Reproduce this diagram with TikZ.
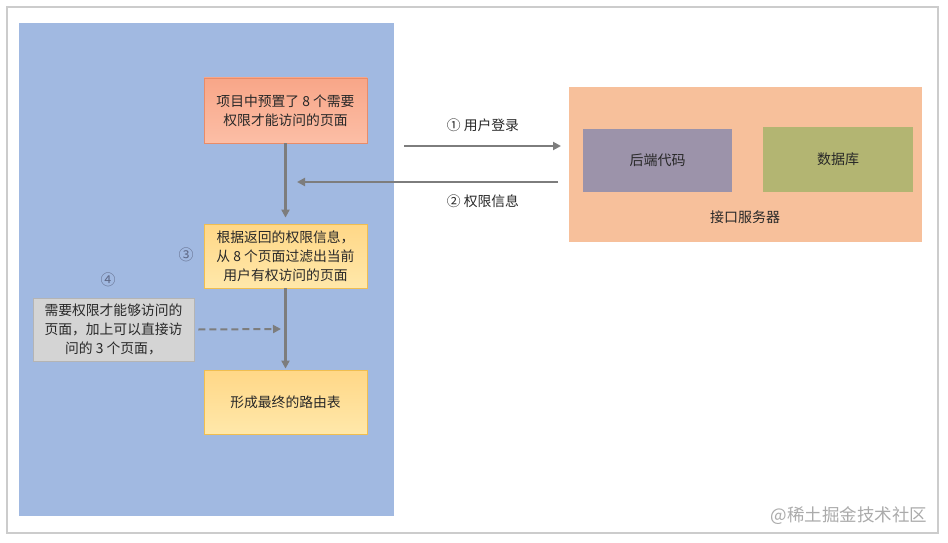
\documentclass[tikz,border=0pt]{standalone}
\usepackage{fontspec}
\setmainfont{Noto Sans CJK SC}
\usetikzlibrary{arrows.meta}
\definecolor{panelblue}{RGB}{161,185,225}
\definecolor{salmonA}{RGB}{248,166,136}
\definecolor{salmonB}{RGB}{252,190,166}
\definecolor{salmonE}{RGB}{232,140,105}
\definecolor{yelA}{RGB}{255,215,135}
\definecolor{yelB}{RGB}{255,232,170}
\definecolor{yelE}{RGB}{240,190,80}
\definecolor{greyfill}{RGB}{212,212,212}
\definecolor{greyedge}{RGB}{180,180,180}
\definecolor{server}{RGB}{247,192,155}
\definecolor{backend}{RGB}{156,147,170}
\definecolor{dbcol}{RGB}{179,181,114}
\definecolor{arrowgrey}{RGB}{125,125,125}
\definecolor{txt}{RGB}{40,40,40}
\definecolor{circnum}{RGB}{95,105,135}
\tikzset{
  box/.style={minimum width=163pt, minimum height=64pt, align=center, inner sep=2pt,
    text=txt, font=\fontsize{13.8}{19}\selectfont},
  salmonbox/.style={box, draw=salmonE, line width=0.8pt, top color=salmonA, bottom color=salmonB},
  yelbox/.style={box, draw=yelE, line width=0.8pt, top color=yelA, bottom color=yelB},
  greybox/.style={box, minimum width=161pt, minimum height=63pt, fill=greyfill, draw=greyedge, line width=0.8pt},
  inner/.style={minimum width=149pt, minimum height=63pt, text=txt, font=\fontsize{14}{16}\selectfont},
  conn/.style={draw=arrowgrey, line width=2.4pt, -{Triangle[length=8pt,width=8pt]}},
  lbl/.style={text=txt, font=\fontsize{13.8}{16}\selectfont},
}
\begin{document}
\begin{tikzpicture}[x=1pt,y=-1pt]
\useasboundingbox (0,0) rectangle (948,543);
\fill[white] (0,0) rectangle (948,543);
\draw[draw=black!20, line width=1.2pt] (7,7) rectangle (938,533);
% blue panel
\fill[panelblue] (19,23) rectangle (394,516);
% left flow
\node[salmonbox, minimum height=65pt] (b1) at (285.5,110.5) {项目中预置了 8 个需要\\权限才能访问的页面};
\node[yelbox] (b2) at (285.5,256) {根据返回的权限信息，\\从 8 个页面过滤出当前\\用户有权访问的页面};
\node[yelbox] (b3) at (285.5,402) {形成最终的路由表};
\node[greybox] (g) at (113.5,329.5) {需要权限才能够访问的\\页面，加上可以直接访\\问的 3 个页面，};
\node[lbl, font=\fontsize{15}{16}\selectfont, text=circnum] (c3) at (186,255) {③};
\node[lbl, font=\fontsize{15}{16}\selectfont, text=circnum] (c4) at (108,280) {④};
\draw[conn, shorten >=6pt] (b1.south) -- (b2.north);
\draw[conn, shorten >=1pt] (b2.south) -- (b3.north);
\coordinate (dashend) at (281,329);
\draw[conn, line width=2pt, dash pattern=on 7pt off 4pt] ([xshift=4pt]g.east) -- (dashend);
% server
\node[fill=server, minimum width=353pt, minimum height=155pt] (srv) at (745.5,164.5) {};
\node[inner, fill=backend] (be) at (657.5,160.5) {后端代码};
\node[inner, fill=dbcol, minimum width=150pt, minimum height=65pt] (db) at (838,159.5) {数据库};
\node[lbl, font=\fontsize{14}{16}\selectfont] (srvlbl) at (745,217) {接口服务器};
% arrows between
\coordinate (a1s) at (404,146);
\coordinate (a1e) at (561,146);
\coordinate (a2s) at (558,182);
\coordinate (a2e) at (297,182);
\draw[conn] (a1s) -- (a1e);
\draw[conn] (a2s) -- (a2e);
\node[lbl] (l1) at (483,125) {① 用户登录};
\node[lbl] (l2) at (483,201) {② 权限信息};
% watermark
\node[anchor=east, text=black!33, font=\fontsize{17.5}{18}\selectfont] (wm) at (931,516) {@稀土掘金技术社区};
\end{tikzpicture}
\end{document}
